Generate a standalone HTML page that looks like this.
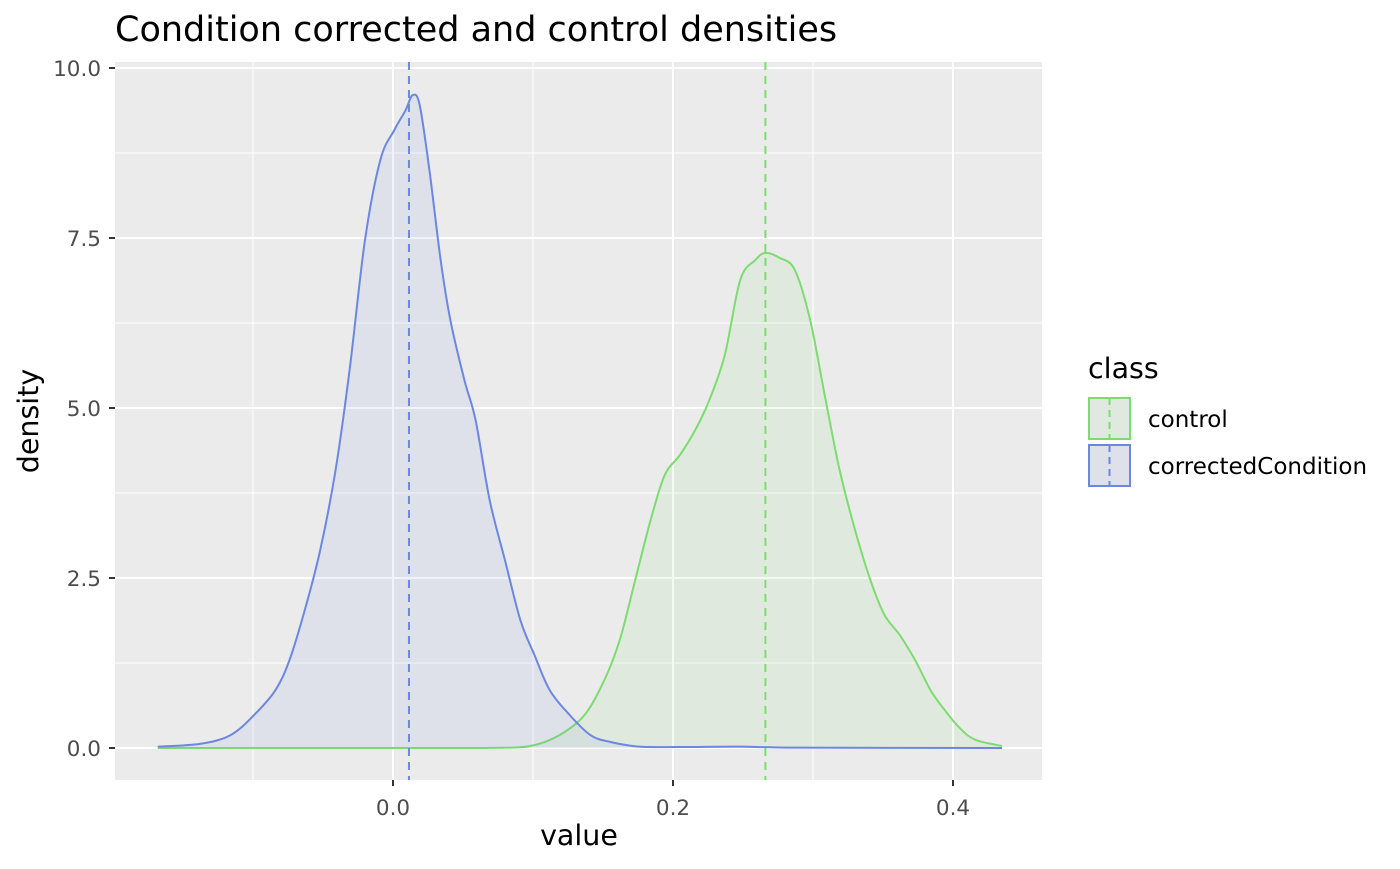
<!DOCTYPE html>
<html><head><meta charset="utf-8"><style>
body{margin:0;background:#fff;font-family:"DejaVu Sans","Liberation Sans",sans-serif}
text{font-family:"DejaVu Sans","Liberation Sans",sans-serif}
</style></head><body>
<svg id="chart" width="1400" height="865" xmlns="http://www.w3.org/2000/svg">
<text x="115" y="41" font-size="35" fill="#000">Condition corrected and control densities</text>
<rect x="115" y="62" width="927" height="718" fill="#ebebeb"/>
<g id="grid"></g><g id="series"></g><g id="axes"></g>
<text x="579" y="845" font-size="28.5" text-anchor="middle">value</text>
<text transform="translate(38,421) rotate(-90)" font-size="28.5" text-anchor="middle">density</text>
<g>
<text x="1088" y="378" font-size="28.5">class</text>
<g>
<rect x="1089" y="398" width="41" height="41" fill="#dfe9df" stroke="#7ddc70" stroke-width="2"/>
<line x1="1109.5" y1="398" x2="1109.5" y2="439" stroke="#7ddc70" stroke-width="2" stroke-dasharray="7,5"/>
<text x="1148" y="427" font-size="23">control</text></g>
<g>
<rect x="1089" y="445" width="41" height="41" fill="#dfe1ea" stroke="#6b87e0" stroke-width="2"/>
<line x1="1109.5" y1="445" x2="1109.5" y2="486" stroke="#6b87e0" stroke-width="2" stroke-dasharray="7,5"/>
<text x="1148" y="474" font-size="23">correctedCondition</text></g>
</g>
</svg>
<script>
const blueX=[-0.168,-0.138,-0.116,-0.099,-0.084,-0.074,-0.063,-0.052,-0.041,-0.031,-0.020,-0.009,0.001,0.009,0.014,0.019,0.026,0.034,0.041,0.051,0.059,0.069,0.080,0.091,0.101,0.112,0.126,0.141,0.155,0.176,0.205,0.248,0.29,0.435];
const blueY=[0.02,0.06,0.19,0.49,0.85,1.29,2.03,2.91,4.09,5.56,7.47,8.65,9.09,9.38,9.6,9.46,8.5,7.18,6.29,5.41,4.82,3.65,2.76,1.88,1.37,0.85,0.49,0.19,0.09,0.02,0.015,0.02,0.005,0];
const greenX=[-0.168,0.0,0.07,0.098,0.119,0.137,0.151,0.162,0.173,0.184,0.194,0.205,0.216,0.226,0.237,0.248,0.259,0.266,0.276,0.287,0.298,0.309,0.319,0.330,0.341,0.351,0.362,0.373,0.384,0.394,0.405,0.416,0.435];
const greenY=[0,0,0.002,0.03,0.19,0.49,1.0,1.59,2.47,3.35,4.01,4.31,4.68,5.12,5.78,6.88,7.18,7.28,7.21,7.03,6.29,5.12,4.09,3.21,2.47,1.96,1.66,1.29,0.85,0.56,0.29,0.12,0.03];
const means=[0.0114,0.266];
const xTicks=[0,0.2,0.4], xMinor=[-0.1,0.1,0.3];
const yTicks=[0,2.5,5,7.5,10], yMinor=[1.25,3.75,6.25,8.75];
const yLabels=["0.0","2.5","5.0","7.5","10.0"], xLabels=["0.0","0.2","0.4"];
const X=v=>393+v*1400, Y=v=>748-v*68;
const NS="http://www.w3.org/2000/svg";
function mk(p,t,a){const e=document.createElementNS(NS,t);for(const k in a)e.setAttribute(k,a[k]);p.appendChild(e);return e;}
const grid=document.getElementById('grid'),ser=document.getElementById('series'),ax=document.getElementById('axes');
xMinor.forEach(v=>{const l=mk(grid,'line',{x1:X(v),x2:X(v),y1:62,y2:780,stroke:'#fff','stroke-width':1});

});
yMinor.forEach(v=>{const l=mk(grid,'line',{x1:115,x2:1042,y1:Y(v),y2:Y(v),stroke:'#fff','stroke-width':1});

});
xTicks.forEach((v,i)=>{const l=mk(grid,'line',{x1:X(v),x2:X(v),y1:62,y2:780,stroke:'#fff','stroke-width':2});


mk(ax,'line',{x1:X(v),x2:X(v),y1:780,y2:786,stroke:'#333','stroke-width':2});
const t=mk(ax,'text',{x:X(v),y:815,'font-size':21.5,fill:'#4d4d4d','text-anchor':'middle'});t.textContent=xLabels[i];

});
yTicks.forEach((v,i)=>{const l=mk(grid,'line',{x1:115,x2:1042,y1:Y(v),y2:Y(v),stroke:'#fff','stroke-width':2});


mk(ax,'line',{x1:109,x2:115,y1:Y(v),y2:Y(v),stroke:'#333','stroke-width':2});
const t=mk(ax,'text',{x:101,y:Y(v)+8,'font-size':21.5,fill:'#4d4d4d','text-anchor':'end'});t.textContent=yLabels[i];

});
function path(xs,ys){const p=xs.map((x,i)=>[X(x),Y(ys[i])]);let d='M'+p[0][0]+','+p[0][1];
for(let i=0;i<p.length-1;i++){const p0=p[i-1]||p[i],p1=p[i],p2=p[i+1],p3=p[i+2]||p2;
d+=' C'+(p1[0]+(p2[0]-p0[0])/6)+','+(p1[1]+(p2[1]-p0[1])/6)+' '+(p2[0]-(p3[0]-p1[0])/6)+','+(p2[1]-(p3[1]-p1[1])/6)+' '+p2[0]+','+p2[1];}
return d;}
[[greenX,greenY,'#7ddc70','control'],[blueX,blueY,'#6b87e0','corrected-condition']].forEach(s=>{
const d=path(s[0],s[1]);
const f=mk(ser,'path',{d:d+' L'+X(s[0][s[0].length-1])+','+Y(0)+' L'+X(s[0][0])+','+Y(0)+'Z',fill:s[2],'fill-opacity':0.1,stroke:'none'});


const l=mk(ser,'path',{d:d,fill:'none',stroke:s[2],'stroke-width':2});

});
[['#6b87e0','mean-line-corrected-condition'],['#7ddc70','mean-line-control']].forEach((c,i)=>{
const v=means[i];const l=mk(ser,'line',{x1:X(v),x2:X(v),y1:62,y2:780,stroke:c[0],'stroke-width':2,'stroke-dasharray':'8,6'});

});
</script>
</body></html>
